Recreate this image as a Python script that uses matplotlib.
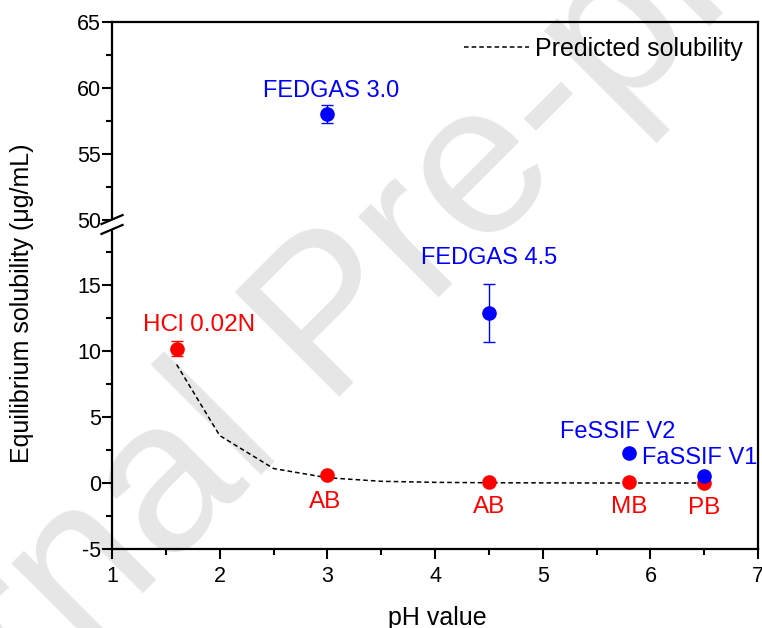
import numpy as np
import matplotlib.pyplot as plt

plt.rcParams['font.family'] = ['Liberation Sans', 'DejaVu Sans']

# measured solubility in buffers (red)
ph_red = [1.6, 3.0, 4.5, 5.8, 6.5]
sol_red = [10.2, 0.6, 0.05, 0.05, 0.0]
err_red = [0.55, 0.0, 0.0, 0.0, 0.0]
lab_red = ['HCl 0.02N', 'AB', 'AB', 'MB', 'PB']

# measured solubility in biorelevant media (blue)
ph_blue = [3.0, 4.5, 5.8, 6.5]
sol_blue = [58.0, 12.9, 2.3, 0.53]
err_blue = [0.7, 2.2, 0.0, 0.0]
lab_blue = ['FEDGAS 3.0', 'FEDGAS 4.5', 'FeSSIF V2', 'FaSSIF V1']

# predicted solubility curve
ph_pred = [1.6, 2.0, 2.5, 3.0, 3.5, 4.0, 4.5, 5.0, 5.5, 6.0, 6.5]
sol_pred = [9.0, 3.6, 1.1, 0.4, 0.13, 0.05, 0.02, 0.01, 0.0, 0.0, 0.0]

# y axis has a break: 20..50 is cut out
ytick_vals = [-5, 0, 5, 10, 15, 50, 55, 60, 65]
cut = 30


def brk(v):
    v = np.asarray(v, dtype=float)
    return np.where(v >= 40, v - cut, v)


fig = plt.figure(figsize=(7.62, 6.28), dpi=100)
ax = fig.add_axes([0.147, 0.126, 0.848, 0.839])
ax.set_zorder(1)
ax.patch.set_alpha(0)

# watermark
fig.text(0.44, 0.485, 'Journal Pre-proof', fontsize=155, color='#e6e6e6',
         rotation=45, ha='center', va='center', rotation_mode='anchor', zorder=0)

ax.plot(ph_pred, sol_pred, ls=(0, (3, 2)), color='black', lw=1.1,
        label='Predicted solubility', zorder=2)

ax.errorbar(ph_red, brk(sol_red), yerr=err_red, fmt='o', color='#ff0000',
            ms=9.5, elinewidth=1, capsize=4, capthick=1, zorder=3)
ax.errorbar(ph_blue, brk(sol_blue), yerr=err_blue, fmt='o', color='#0000ff',
            ms=9.5, elinewidth=1, capsize=4.5, capthick=1, zorder=4)

# point labels (offsets in points)
red_off = [(16, 12.6), (-2, -24), (0, -22), (0, -22), (0, -22)]
for x, y, t, o in zip(ph_red, brk(sol_red), lab_red, red_off):
    ax.annotate(t, (x, y), xytext=o, textcoords='offset points', ha='center',
                va='baseline', color='#ff0000', fontsize=17.5)
blue_off = [(3, 12.6), (0, 35), (-8, 10.4), (-3, 9)]
for x, y, t, o in zip(ph_blue, brk(sol_blue), lab_blue, blue_off):
    ax.annotate(t, (x, y), xytext=o, textcoords='offset points', ha='center',
                va='baseline', color='#0000ff', fontsize=17)

ax.set_xlim(1, 7)
ax.set_ylim(-5, 35)
ax.set_xticks(range(1, 8))
ax.set_xticks(np.arange(1.5, 7, 1.0), minor=True)
ax.set_yticks(brk(ytick_vals))
ax.set_yticklabels([str(v) for v in ytick_vals])
ax.set_yticks(np.arange(-2.5, 35, 5), minor=True)

ax.tick_params(axis='both', which='major', length=7, width=1.5, labelsize=15.5)
ax.tick_params(axis='both', which='minor', length=4, width=1.5)
ax.tick_params(axis='y', pad=1)
ax.tick_params(axis='x', pad=5)
for s in ax.spines.values():
    s.set_linewidth(1.6)

# break marks on the left spine
tr = ax.get_yaxis_transform()
ax.fill([-0.006, 0.006, 0.006, -0.006], [19.25, 19.25, 20.0, 20.0],
        color='white', transform=tr, clip_on=False, zorder=5)
for yb in [20.0, 19.25]:
    ax.plot([-0.0163, 0.0163], [yb - 0.34, yb + 0.34], color='black', lw=1.6,
            transform=tr, clip_on=False, zorder=6)

ax.set_xlabel('pH value', fontsize=18)
ax.set_ylabel('Equilibrium solubility (\u03bcg/mL)', fontsize=18)
ax.xaxis.set_label_coords(0.503, -0.108)
ax.yaxis.set_label_coords(-0.121, 0.467)

ax.legend(loc='upper right', frameon=False, fontsize=18, handlelength=2.6,
          handletextpad=0.25, borderaxespad=0.2)

plt.savefig('out.png', dpi=100)
